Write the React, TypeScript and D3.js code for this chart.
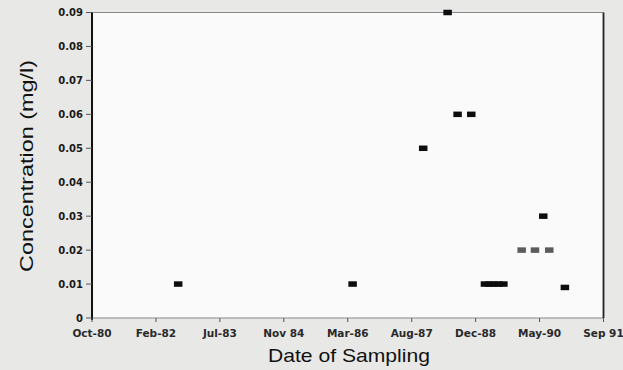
import React from "react";
import * as d3 from "d3";

// ---- data ----
const sampleDates = [
  "1982-08-11", "1986-05-06", "1987-11-09", "1988-05-18", "1988-08-04",
  "1988-11-19", "1989-03-06", "1989-04-10", "1989-05-15", "1989-06-20",
  "1989-07-28", "1989-12-18", "1990-04-01", "1990-07-22", "1990-06-05",
  "1990-11-21",
];
const concentrations = [
  0.01, 0.01, 0.05, 0.09, 0.06,
  0.06, 0.01, 0.01, 0.01, 0.01,
  0.01, 0.02, 0.02, 0.02, 0.03,
  0.009,
];
const markerShade = [
  "dark", "dark", "dark", "dark", "dark",
  "dark", "dark", "dark", "dark", "dark",
  "dark", "grey", "grey", "grey", "dark",
  "dark",
];
const xTickDates = [
  "1980-10-06", "1982-02-18", "1983-07-03", "1984-11-14", "1986-03-29",
  "1987-08-11", "1988-12-23", "1990-05-07", "1991-09-19",
];
const xTickLabels = [
  "Oct-80", "Feb-82", "Jul-83", "Nov 84", "Mar-86",
  "Aug-87", "Dec-88", "May-90", "Sep 91",
];
const yTicks = [0, 0.01, 0.02, 0.03, 0.04, 0.05, 0.06, 0.07, 0.08, 0.09];
const yTickLabels = ["0", "0.01", "0.02", "0.03", "0.04", "0.05", "0.06", "0.07", "0.08", "0.09"];

const W = 623;
const H = 370;
const left = 92;
const right = 603.5;
const top = 12.5;
const bottom = 318;

export default function App() {
  const parse = d3.utcParse("%Y-%m-%d");
  const x = d3
    .scaleUtc()
    .domain([parse(xTickDates[0])!, parse(xTickDates[xTickDates.length - 1])!])
    .range([left, right]);
  const y = d3.scaleLinear().domain([0, 0.09]).range([bottom, top]);

  const points = sampleDates.map((d, i) => ({
    date: parse(d)!,
    v: concentrations[i],
    shade: markerShade[i],
  }));

  const mw = 8.5;
  const mh = 5.5;

  return (
    <svg
      width={W}
      height={H}
      style={{ position: "absolute", left: 0, top: 0 }}
      xmlns="http://www.w3.org/2000/svg"
    >
      <rect x={0} y={0} width={W} height={H} fill="#e8e8e6" />
      <rect x={left} y={top} width={right - left} height={bottom - top} fill="#fafafa" />
      {/* borders */}
      <line x1={left} x2={right} y1={top} y2={top} stroke="#888" strokeWidth={1.2} />
      <line x1={left} x2={right} y1={bottom} y2={bottom} stroke="#888" strokeWidth={1.2} />
      <line x1={right} x2={right} y1={top} y2={bottom} stroke="#222" strokeWidth={1.8} />
      <line x1={left} x2={left} y1={top} y2={bottom + 2} stroke="#111" strokeWidth={2} />

      {/* y ticks */}
      {yTicks.map((t, i) => (
        <g key={"y" + i}>
          <line x1={left - 6} x2={left} y1={y(t)} y2={y(t)} stroke="#555" strokeWidth={1} />
          <text
            x={83}
            y={y(t) + 3.5}
            textAnchor="end"
            fontFamily="DejaVu Sans"
            fontWeight="bold"
            fontSize={10}
            fill="#1a1a1a"
          >
            {yTickLabels[i]}
          </text>
        </g>
      ))}

      {/* x ticks */}
      {xTickDates.map((d, i) => {
        const px = x(parse(d)!);
        return (
          <g key={"x" + i}>
            <line x1={px} x2={px} y1={bottom} y2={bottom + 4} stroke="#555" strokeWidth={1} />
            <text
              x={px}
              y={336.5}
              textAnchor="middle"
              fontFamily="DejaVu Sans"
              fontWeight="bold"
              fontSize={10.5}
              fill="#2a2a2a"
            >
              {xTickLabels[i]}
            </text>
          </g>
        );
      })}

      {/* markers */}
      {points.map((p, i) => (
        <rect
          key={"p" + i}
          x={x(p.date) - mw / 2}
          y={y(p.v) - mh / 2}
          width={mw}
          height={mh}
          fill={p.shade === "grey" ? "#5c5c5c" : "#0d0d0d"}
        />
      ))}

      {/* titles */}
      <text
        transform={`translate(33,166) rotate(-90)`}
        textAnchor="middle"
        fontFamily="Liberation Sans"
        fontSize={18}
        fill="#111"
        textLength={212}
        lengthAdjust="spacingAndGlyphs"
      >
        Concentration (mg/l)
      </text>
      <text
        x={349}
        y={362}
        textAnchor="middle"
        fontFamily="Liberation Sans"
        fontSize={18.5}
        fill="#111"
        textLength={162}
        lengthAdjust="spacingAndGlyphs"
      >
        Date of Sampling
      </text>
    </svg>
  );
}
